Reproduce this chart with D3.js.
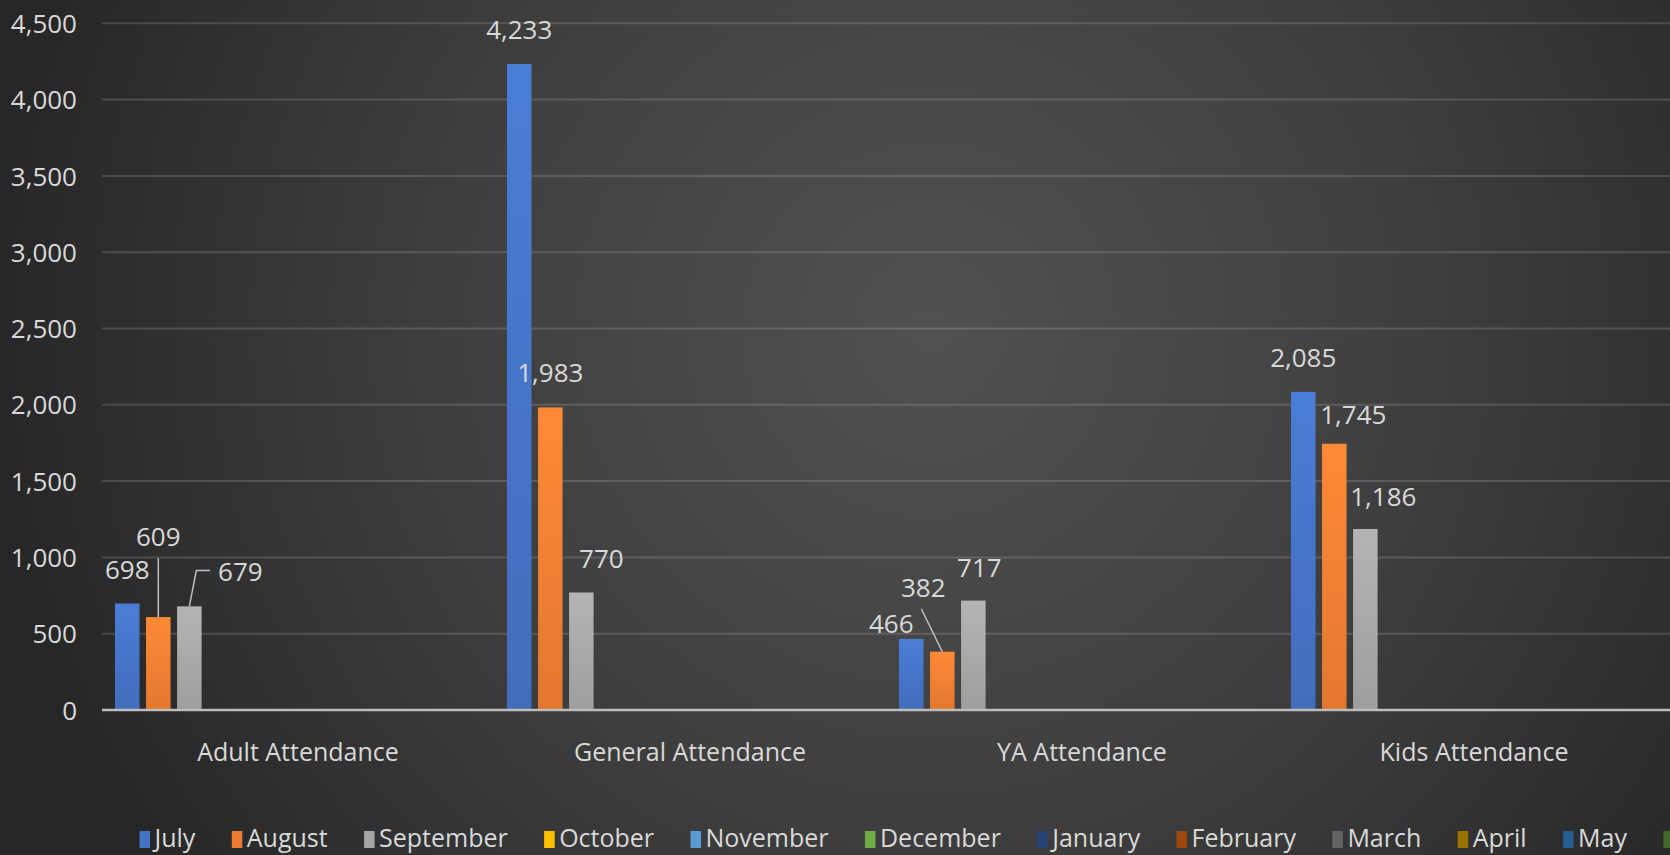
<!DOCTYPE html>
<html>
<head>
<meta charset="utf-8">
<script src="https://cdn.jsdelivr.net/npm/d3@7"></script>
<style>
  html, body { margin: 0; padding: 0; background: #2a2a2a; overflow: hidden; }
  svg { display: block; }
  text { font-family: "Open Sans", "Noto Sans", sans-serif; fill: #d9d9d9; }
</style>
</head>
<body>
<svg id="chart" width="1670" height="855"></svg>
<script>
// ---------------- data ----------------
const categories = ["Adult Attendance", "General Attendance", "YA Attendance", "Kids Attendance"];
const months = ["July", "August", "September", "October", "November", "December",
                "January", "February", "March", "April", "May", "June"];
const monthColors = ["#4472C4", "#ED7D31", "#A5A5A5", "#FFC000", "#5B9BD5", "#70AD47",
                     "#264478", "#9E480E", "#636363", "#997300", "#255E91", "#43682B"];
const julyValues = [698, 4233, 466, 2085];
const augustValues = [609, 1983, 382, 1745];
const septemberValues = [679, 770, 717, 1186];
const emptyMonth = [null, null, null, null];
const yTickValues = [0, 500, 1000, 1500, 2000, 2500, 3000, 3500, 4000, 4500];

const monthValues = [julyValues, augustValues, septemberValues,
  emptyMonth, emptyMonth, emptyMonth, emptyMonth, emptyMonth, emptyMonth, emptyMonth, emptyMonth, emptyMonth];

// manual data-label nudges (pixels) and leader styles, as in the source chart
const labelNudges = {
  "Adult Attendance|August": { dx: 0, dy: -46, leader: "below" },
  "Adult Attendance|September": { dx: 51, dy: 0, leader: "left" },
  "General Attendance|September": { dx: 20, dy: 0 },
  "YA Attendance|July": { dx: -20, dy: 19 },
  "YA Attendance|August": { dx: -19, dy: -30, leader: "below" },
  "YA Attendance|September": { dx: 6, dy: 1 },
  "Kids Attendance|August": { dx: 19, dy: 5 },
  "Kids Attendance|September": { dx: 18, dy: 2 }
};

// ---------------- layout ----------------
const W = 1670, H = 855;
const svg = d3.select("#chart");
const defs = svg.append("defs");

const bg = defs.append("radialGradient").attr("id", "bg")
  .attr("gradientUnits", "userSpaceOnUse")
  .attr("cx", 930).attr("cy", 330).attr("r", 950);
bg.append("stop").attr("offset", "0").attr("stop-color", "#515151");
bg.append("stop").attr("offset", "0.55").attr("stop-color", "#3d3d3d");
bg.append("stop").attr("offset", "1").attr("stop-color", "#262626");
svg.append("rect").attr("width", W).attr("height", H).attr("fill", "url(#bg)");

monthColors.forEach((c, i) => {
  const g = defs.append("linearGradient").attr("id", "bar" + i)
    .attr("x1", 0).attr("y1", 0).attr("x2", 0).attr("y2", 1);
  g.append("stop").attr("offset", "0").attr("stop-color", d3.color(c).brighter(0.25).formatHex());
  g.append("stop").attr("offset", "1").attr("stop-color", d3.color(c).darker(0.12).formatHex());
});

const plotLeft = 102, plotRight = 1670, zeroY = 710, topY = 23.3;
const y = d3.scaleLinear().domain([0, 4500]).range([zeroY, topY]);
const x0 = d3.scaleBand().domain(categories).range([plotLeft, plotRight]);
const groupPad = 13;
const x1 = d3.scaleBand().domain(months).range([groupPad, x0.bandwidth() - groupPad]).paddingInner(0.21);

// gridlines
svg.append("g").selectAll("line").data(yTickValues.filter(v => v > 0)).join("line")
  .attr("x1", plotLeft).attr("x2", plotRight)
  .attr("y1", d => y(d)).attr("y2", d => y(d))
  .attr("stroke", "rgba(255,255,255,0.15)").attr("stroke-width", 2);

// y axis labels
const yAxis = svg.append("g").attr("transform", `translate(84,0)`)
  .call(d3.axisLeft(y).tickValues(yTickValues).tickFormat(d3.format(",")).tickSize(0).tickPadding(7));
yAxis.select(".domain").remove();
yAxis.selectAll("text").attr("font-size", 26).attr("font-family", '"Open Sans", sans-serif')
  .attr("fill", "#d9d9d9").attr("dy", "0.35em");

// bars
const rows = [];
months.forEach((m, mi) => {
  categories.forEach((c, ci) => {
    const v = monthValues[mi][ci];
    if (v != null) rows.push({ month: m, mi, cat: c, value: v });
  });
});

svg.append("g").selectAll("rect").data(rows).join("rect")
  .attr("x", d => x0(d.cat) + x1(d.month))
  .attr("y", d => y(d.value))
  .attr("width", x1.bandwidth())
  .attr("height", d => y(0) - y(d.value))
  .attr("fill", d => `url(#bar${d.mi})`);

// zero axis line
svg.append("line").attr("x1", plotLeft).attr("x2", plotRight)
  .attr("y1", y(0)).attr("y2", y(0))
  .attr("stroke", "#bdbdbd").attr("stroke-width", 2.5);

// data labels + leader lines
const fmt = d3.format(",");
const labelG = svg.append("g");
rows.forEach(d => {
  const bx = x0(d.cat) + x1(d.month) + x1.bandwidth() / 2;
  const by = y(d.value);
  const n = labelNudges[d.cat + "|" + d.month] || { dx: 0, dy: 0 };
  const lx = bx + n.dx, ly = by - 34 + n.dy;
  const t = labelG.append("text").attr("x", lx).attr("y", ly).attr("dy", "0.35em")
    .attr("text-anchor", "middle").attr("font-size", 26).text(fmt(d.value));
  if (n.leader === "below") {
    const path = d3.path();
    path.moveTo(lx - (bx === lx ? 0 : 2), ly + 21);
    path.lineTo(bx, by);
    labelG.append("path").attr("d", path.toString()).attr("fill", "none")
      .attr("stroke", "#bfbfbf").attr("stroke-width", 1.5);
  } else if (n.leader === "left") {
    const w = t.node().getComputedTextLength();
    const path = d3.path();
    path.moveTo(lx - w / 2 - 8, ly - 2);
    path.lineTo(bx + 7, ly - 2);
    path.lineTo(bx, by);
    labelG.append("path").attr("d", path.toString()).attr("fill", "none")
      .attr("stroke", "#bfbfbf").attr("stroke-width", 1.5);
  }
});

// category labels
svg.append("g").selectAll("text").data(categories).join("text")
  .attr("x", d => x0(d) + x0.bandwidth() / 2)
  .attr("y", 761)
  .attr("text-anchor", "middle").attr("font-size", 25)
  .text(d => d);

// legend (the source chart is cropped at the right edge, so its last entry is cut)
const legend = svg.append("g");
let lxPos = 139.5;
months.forEach((m, i) => {
  const g = legend.append("g").attr("transform", `translate(${lxPos},0)`);
  g.append("rect").attr("x", 0).attr("y", 831).attr("width", 10.5).attr("height", 17)
    .attr("fill", monthColors[i]);
  const t = g.append("text").attr("x", 15).attr("y", 847).attr("font-size", 25).text(m);
  lxPos += 15 + t.node().getComputedTextLength() + 36.4;
});
</script>
</body>
</html>
